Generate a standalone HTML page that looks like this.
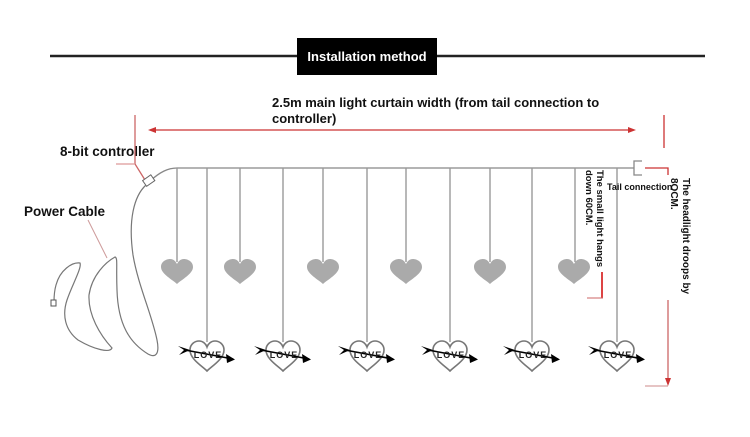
<!DOCTYPE html>
<html><head><meta charset="utf-8"><style>
html,body{margin:0;padding:0;background:#fff}
svg{display:block}
text{font-family:"Liberation Sans","DejaVu Sans",sans-serif;font-weight:bold}
</style></head><body>
<svg width="750" height="437" viewBox="0 0 750 437" xmlns="http://www.w3.org/2000/svg">
<defs>
<path id="hf" d="M0,10 C-4,6 -16,0 -16,-7 C-16,-13 -10,-15 -7,-15 C-3,-15 -1,-12 0,-10 C1,-12 3,-15 7,-15 C10,-15 16,-13 16,-7 C16,0 4,6 0,10 Z"/>
<g id="love">
<path d="M0,15 C-5,10 -17,3 -17,-6 C-17,-12 -12,-15 -8,-15 C-4,-15 -1,-12 0,-9 C1,-12 4,-15 8,-15 C12,-15 17,-12 17,-6 C17,3 5,10 0,15 Z" fill="none" stroke="#777" stroke-width="1.6"/>
<line x1="-22" y1="-6" x2="26" y2="3" stroke="#000" stroke-width="1.6"/>
<path d="M-29,-10 L-17,-6 L-28,-1 L-23,-6 Z" fill="#000"/>
<path d="M28,3.5 L19,-2 L20,7 Z" fill="#000"/>
<text x="1" y="2" font-size="9" font-weight="normal" text-anchor="middle" fill="#222" letter-spacing="1">LOVE</text>
</g>
</defs>
<line x1="50" y1="56" x2="705" y2="56" stroke="#222" stroke-width="2.5"/>
<rect x="297" y="38" width="140" height="37" fill="#000"/>
<text x="367" y="61" font-size="13" fill="#fff" text-anchor="middle">Installation method</text>
<text x="272" y="107" font-size="13" fill="#111">2.5m main light curtain width (from tail connection to</text>
<text x="272" y="123" font-size="13" fill="#111">controller)</text>
<line x1="152" y1="130" x2="630" y2="130" stroke="#c33" stroke-width="1.3"/>
<path d="M148,130 L156,127 L156,133 Z" fill="#c33"/>
<path d="M636,130 L628,127 L628,133 Z" fill="#c33"/>
<line x1="664" y1="115" x2="664" y2="148" stroke="#c33" stroke-width="1.3"/>
<text x="60" y="156" font-size="13.5" fill="#111">8-bit controller</text>
<path d="M135,115 L135,164 L145,180" stroke="#c66" stroke-width="1.3" fill="none"/>
<line x1="116" y1="164" x2="135" y2="164" stroke="#d99" stroke-width="1.2"/>
<text x="24" y="216" font-size="13.5" fill="#111">Power Cable</text>
<line x1="88" y1="220" x2="107" y2="258" stroke="#c99" stroke-width="1"/>
<path d="M150,181 C160,172 168,168 177,168 L634,168" stroke="#888" stroke-width="1.3" fill="none"/>
<rect x="144" y="177" width="10" height="7" transform="rotate(-35 149 181)" fill="#fff" stroke="#666"/>
<path d="M146,185 C134,196 128,220 133,255 C138,285 152,315 157,340 C160,355 155,358 148,354 C130,343 118,325 117,290 C116,265 118,258 115,257 C106,262 92,275 89,295 C88,315 100,335 112,348 C110,353 95,350 78,340 C65,330 62,315 67,300 C72,285 82,268 80,263 C72,262 60,270 56,285 C54,292 54,298 54,302" stroke="#777" stroke-width="1.2" fill="none"/>
<rect x="51" y="300" width="5" height="6" fill="#fff" stroke="#555"/>
<g stroke="#999" stroke-width="1.4">
<line x1="177" y1="168" x2="177" y2="262"/><line x1="207" y1="168" x2="207" y2="342"/>
<line x1="240" y1="168" x2="240" y2="262"/><line x1="283" y1="168" x2="283" y2="342"/>
<line x1="323" y1="168" x2="323" y2="262"/><line x1="367" y1="168" x2="367" y2="342"/>
<line x1="406" y1="168" x2="406" y2="262"/><line x1="450" y1="168" x2="450" y2="342"/>
<line x1="490" y1="168" x2="490" y2="262"/><line x1="532" y1="168" x2="532" y2="342"/>
<line x1="575" y1="168" x2="575" y2="262"/><line x1="617" y1="168" x2="617" y2="342"/>
</g>
<g fill="#aaa">
<use href="#hf" x="177" y="274"/><use href="#hf" x="240" y="274"/><use href="#hf" x="323" y="274"/>
<use href="#hf" x="406" y="274"/><use href="#hf" x="490" y="274"/><use href="#hf" x="574" y="274"/>
</g>
<use href="#love" x="207" y="356"/><use href="#love" x="283" y="356"/><use href="#love" x="367" y="356"/>
<use href="#love" x="450" y="356"/><use href="#love" x="532" y="356"/><use href="#love" x="617" y="356"/>
<path d="M642,161 L634,161 L634,175 L642,175" stroke="#888" stroke-width="1.3" fill="none"/>
<path d="M645,168 L668,168 L668,175" stroke="#c33" stroke-width="1.3" fill="none"/>
<text x="607" y="190" font-size="9" fill="#111">Tail connection</text>
<text transform="translate(597,170) rotate(90)" font-size="9.5" fill="#111">The small light hangs</text>
<text transform="translate(586,170) rotate(90)" font-size="9.5" fill="#111">down 60CM.</text>
<line x1="602" y1="272" x2="602" y2="298" stroke="#d44" stroke-width="2"/>
<line x1="587" y1="298" x2="603" y2="298" stroke="#c66" stroke-width="1"/>
<text transform="translate(683,178) rotate(90)" font-size="10" fill="#111">The headlight droops by</text>
<text transform="translate(671,178) rotate(90)" font-size="10" fill="#111">8OCM.</text>
<line x1="668" y1="300" x2="668" y2="382" stroke="#c66" stroke-width="1.3"/>
<path d="M668,386 L665,378 L671,378 Z" fill="#c33"/>
<line x1="645" y1="386" x2="668" y2="386" stroke="#c88" stroke-width="1"/>
</svg>
</body></html>
